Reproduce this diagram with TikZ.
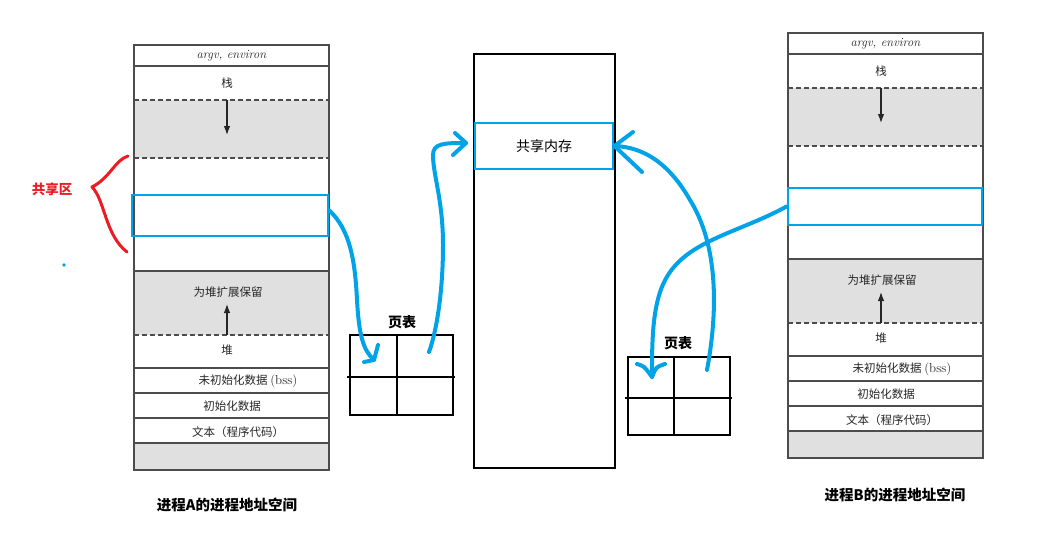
\documentclass[tikz,border=0pt]{standalone}
\usepackage{fontspec}
\newfontfamily\cjk{Noto Sans CJK SC}
\usetikzlibrary{arrows.meta}
\definecolor{shblue}{RGB}{0,162,232}
\definecolor{shred}{RGB}{237,28,36}
\newcommand\memcol{%
  \fill[black!12] (0,55) rectangle (195,113);
  \fill[black!12] (0,226) rectangle (195,290);
  \fill[black!12] (0,398) rectangle (195,425);
  \draw[colline] (0,0) rectangle (195,425);
  \draw[colline] (0,21) -- (195,21);
  \draw[dline] (0,55) -- (195,55);
  \draw[dline] (0,113) -- (195,113);
  \draw[colline] (0,226) -- (195,226);
  \draw[dline] (0,290) -- (195,290);
  \draw[colline] (0,323) -- (195,323);
  \draw[colline] (0,348) -- (195,348);
  \draw[colline] (0,373) -- (195,373);
  \draw[colline] (0,398) -- (195,398);
  \node[ctext,font=\itshape\fontsize{12.5}{14}\selectfont] (argv) at (97.5,11) {argv, environ};
  \node[ctext] (stack) at (93,38) {栈};
  \draw[colarrow] (93,55) -- (93,90);
  \node[ctext] (heapres) at (94,247) {为堆扩展保留};
  \draw[colarrow] (93,290) -- (93,259);
  \node[ctext] (heap) at (93,305) {堆};
  \node[ctext] (bss) at (114,336) {未初始化数据 {\rmfamily\fontsize{13}{14}\selectfont(bss)}};
  \node[ctext] (data) at (98,361) {初始化数据};
  \node[ctext] (text) at (104,387) {文本（程序代码）};
}
\begin{document}
\begin{tikzpicture}[x=1pt,y=-1pt,
  colline/.style={draw=black!70,line width=1.2pt},
  dline/.style={draw=black!70,line width=1.2pt,dash pattern=on 5pt off 3pt},
  colarrow/.style={draw=black!85,line width=1.1pt,-{Latex[length=9pt,width=6.5pt]}},
  ctext/.style={font=\cjk\fontsize{11.5}{13}\selectfont,text=black!85,inner sep=0pt},
  bluebox/.style={draw=shblue,line width=2.8pt,inner sep=0pt},
  bluecurve/.style={draw=shblue,line width=4pt,line cap=round,line join=round},
  ptab/.style={draw=black,line width=2.8pt},
  lbl/.style={font=\cjk\bfseries\fontsize{14}{16}\selectfont,inner sep=0pt}
]
\useasboundingbox (0,0) rectangle (1039,535);
\fill[white] (0,0) rectangle (1039,535);

% process A address space
\begin{scope}[shift={(134,45)},name prefix=A-]
  \memcol
\end{scope}
% process B address space
\begin{scope}[shift={(788,33)},name prefix=B-]
  \memcol
\end{scope}

% shared regions
\node[bluebox,minimum width=196pt,minimum height=41pt] (shareA) at (230,215.5) {};
\node[bluebox,minimum width=194pt,minimum height=37pt] (shareB) at (885,206.5) {};

% physical memory
\node[draw=black,line width=2.2pt,minimum width=141pt,minimum height=414pt,inner sep=0pt] (mem) at (544.5,261) {};
\node[bluebox,minimum width=138pt,minimum height=46pt,font=\cjk\fontsize{14}{16}\selectfont] (shm) at (544,146) {共享内存};

% page table A
\node[ptab,minimum width=103pt,minimum height=80pt,inner sep=0pt] (ptA) at (401.5,375) {};
\draw[ptab] (397,335) -- (397,415);
\draw[ptab] (347,377) -- (455,377);
\node[lbl] (ptAlbl) at (402,322) {页表};

% page table B
\node[ptab,minimum width=102pt,minimum height=78pt,inner sep=0pt] (ptB) at (679,396) {};
\draw[ptab] (674,357) -- (674,435);
\draw[ptab] (625,398) -- (732,398);
\node[lbl] (ptBlbl) at (678,343) {页表};

% connectors
\coordinate (a1) at (374,360);
\draw[bluecurve] ([yshift=5pt]shareA.east) .. controls (350,230) and (355,260) .. (357,300)
   .. controls (359,335) and (363,350) .. (a1);
\draw[bluecurve] (378,345) -- (a1) -- (364,362);

\coordinate (a2s) at (429,352);
\coordinate (a2) at (466,143);
\draw[bluecurve] (a2s) .. controls (437,330) and (443,290) .. (443,245)
   .. controls (443,200) and (433,175) .. (433,155)
   .. controls (433,143) and (445,143) .. (a2);
\draw[bluecurve] (455,133) -- (a2) -- (453,155);

\coordinate (a3s) at (707,370);
\draw[bluecurve] (a3s) .. controls (720,300) and (715,240) .. (690,200)
   .. controls (670,165) and (645,147) .. (shm.east);
\draw[bluecurve] (633,132) -- (shm.east) -- (642,172);

\coordinate (a4) at (652,377);
\draw[bluecurve] (shareB.west) .. controls (740,232) and (690,240) .. (668,275)
   .. controls (652,300) and (652,340) .. (a4);
\draw[bluecurve] (637,364) .. controls (644,366) .. (a4) .. controls (656,367) .. (665,364);

% shared-area bracket
\draw[draw=shred,line width=3pt,line cap=round,line join=round]
  (128,156) .. controls (115,160) and (110,178) .. (92,187)
  .. controls (105,200) and (105,235) .. (127,252);
\node[lbl,text=shred,font=\cjk\bfseries\fontsize{13.5}{15}\selectfont] (sharelbl) at (52,189) {共享区};
\fill[shblue] (64,265) circle (1.8pt);

% captions
\node[lbl,font=\cjk\bfseries\fontsize{14.5}{16}\selectfont] (capA) at (227,505) {进程A的进程地址空间};
\node[lbl,font=\cjk\bfseries\fontsize{14.5}{16}\selectfont] (capB) at (895,495) {进程B的进程地址空间};
\end{tikzpicture}
\end{document}
